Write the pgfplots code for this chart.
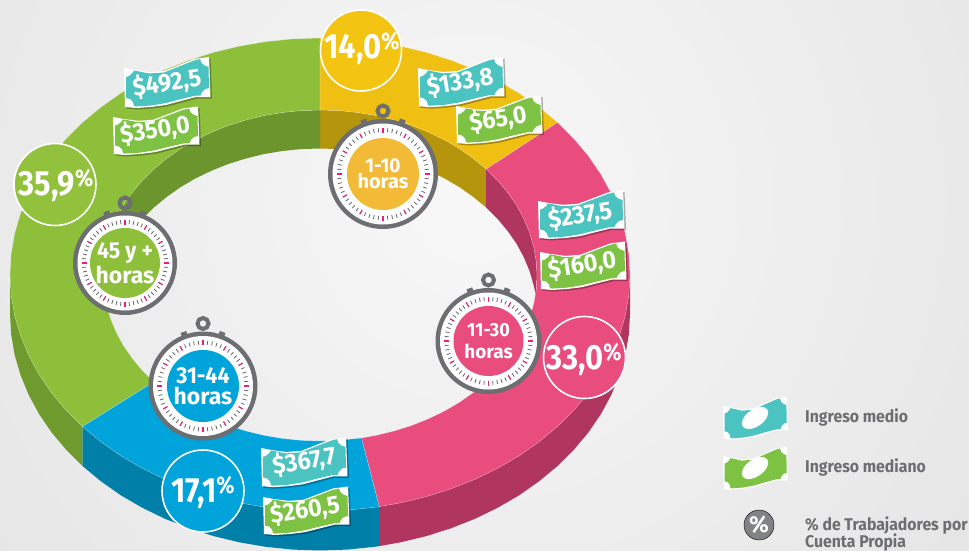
\documentclass[border=0pt]{standalone}
\usepackage{pgfplots}
\usepackage{pgfplotstable}
\usepackage{fontspec}
\pgfplotsset{compat=1.18}
\setmainfont{Fira Sans}
\definecolor{grT}{HTML}{8DBF3A}\definecolor{grW}{HTML}{6C962D}\definecolor{grS}{HTML}{6F9A2E}
\definecolor{yeT}{HTML}{EFBF12}\definecolor{yeW}{HTML}{B5950C}
\definecolor{piT}{HTML}{E94D7E}\definecolor{piW}{HTML}{B0355F}
\definecolor{blT}{HTML}{00A3DA}\definecolor{blS}{HTML}{007FA9}
\definecolor{teal}{HTML}{4BC3C0}\definecolor{ngr}{HTML}{7DC242}
\definecolor{wgray}{HTML}{6D6E71}\definecolor{tick}{HTML}{EC1E79}
\definecolor{grB}{HTML}{92C23D}\definecolor{yeB}{HTML}{F4C412}\definecolor{yeC}{HTML}{F2BA37}\definecolor{lgray}{HTML}{808285}
\pgfplotsset{pix/.style={at={(0,0)},anchor=south west,scale only axis,width=969pt,height=551pt,
 xmin=0,xmax=969,ymin=0,ymax=551,y dir=reverse,hide axis,clip=false}}
\newcommand\sx[2]{\scalebox{#1}[1]{#2}}
\pgfplotstableread{
x y
0 0
10 2
25 4
40 3
55 -3
70 -9
85 -11
85.5 0
86 14
86.5 29
72 29
57 33
42 37
27 39
12 40
1 39
0.5 20
0 0
}\noteshape
\pgfplotstableread{
x y
2 9
5 8
8 5.5
10 2.5
25 5.5
40 4.5
55 -1.5
70 -7.5
76 -9
77.5 -5
80.5 -2.5
84.5 -1
85 20
81 21
78 24
76.5 27.5
72 27.5
57 31
42 35
27 37.5
12 38.5
10 38
9 34
6 31
2 30
2 9
}\notefill
\newcommand\noteb[5]{%
\addplot[fill=white,draw=none,forget plot] table[x expr=\thisrow{x}*#4+#1,y expr=\thisrow{y}*#5+#2]{\noteshape};
\addplot[fill=#3,draw=none,forget plot] table[x expr=\thisrow{x}*#4+#1,y expr=\thisrow{y}*#5+#2]{\notefill};
}
\newcommand\note[5]{%
\addplot[fill=black,fill opacity=.3,draw=none,forget plot] table[x expr=\thisrow{x}*#4+#1+1.5,y expr=\thisrow{y}*#5+#2+1.5]{\noteshape};
\noteb{#1}{#2}{#3}{#4}{#5}}
\newcommand\money[3]{\node[text=white,rotate=9,inner sep=0pt,font=\fontsize{25}{25}\selectfont\bfseries] at (axis cs:#1,#2) {\sx{.94}{#3}};}
\newcommand\pct[3]{\node[text=white,font=\fontsize{35}{35}\selectfont\bfseries] at (axis cs:#1,#2) {\sx{.88}{#3\raisebox{9pt}{\fontsize{24}{24}\selectfont\%}}};}
\newcommand\watch[7]{%
\pgfplotsextra{\begin{scope}[shift={(axis cs:#1,#2)},x=1pt,y=1pt]
\draw[wgray,line width=4pt] (0,{#3+8}) circle (5.5pt);
\draw[wgray,line width=6pt] (70:{#3-2}) -- (70:{#3+3});
\draw[wgray,line width=6pt] (110:{#3-2}) -- (110:{#3+3});
\fill[wgray] (0,0) circle (#3pt);
\fill[white] (0,0) circle ({#3pt-4.5pt});
\foreach \a in {0,6,...,354}{\draw[black!60,line width=.8pt] (\a:{#3-13}) -- (\a:{#3-9});}
\foreach \a in {0,30,...,330}{\draw[tick,line width=1.1pt] (\a:{#3-13.5}) -- (\a:{#3-8.5});}
\draw[tick,line width=1.8pt] (90:{#3-13.5}) -- (90:{#3-8.5});
\fill[#5] (0,0) circle (#4pt);
\node[text=white,align=center,font=\fontsize{#6}{#6}\selectfont\bfseries,inner sep=0pt] at (0,0) {#7};
\end{scope}}}
\begin{document}
\begin{tikzpicture}
\path[use as bounding box] (0,0) rectangle (969pt,551pt);
\begin{scope}
\clip (0,0) rectangle (969pt,551pt);
\shade[inner color=white!97!black,outer color=white!89!black] (470pt,351pt) circle (700pt);
\end{scope}
\begin{axis}[pix]
% side walls
\addplot[fill=grS,draw=none,forget plot] coordinates {(82.5,426.5)(66.1,410.2)(51.5,392.8)(39,374.4)(28.7,355.4)(20.6,335.7)(14.7,315.6)(11.2,295.1)(10,274.5)(10,314)(11.2,334.6)(14.7,355.1)(20.6,375.2)(28.7,394.9)(39,413.9)(51.5,432.3)(66.1,449.7)(82.5,466)};
\addplot[fill=blS,draw=none,forget plot] coordinates {(82.5,426.5)(100.8,441.7)(120.7,455.7)(142.2,468.2)(165,479.3)(189,488.8)(214,496.7)(239.8,502.9)(266.2,507.4)(293,510.1)(320,511)(347,510.1)(373.8,507.4)(379.2,506.6)(379.2,546.1)(373.8,546.9)(347,549.6)(320,550.5)(293,549.6)(266.2,546.9)(239.8,542.4)(214,536.2)(189,528.3)(165,518.8)(142.2,507.7)(120.7,495.2)(100.8,481.2)(82.5,466)};
\addplot[fill=piW,draw=none,forget plot] coordinates {(630,274.5)(628.8,295.1)(625.3,315.6)(619.4,335.7)(611.3,355.4)(601,374.4)(588.5,392.8)(573.9,410.2)(557.5,426.5)(539.2,441.7)(519.3,455.7)(497.8,468.2)(475,479.3)(451,488.8)(426,496.7)(400.2,502.9)(379.2,506.6)(379.2,546.1)(400.2,542.4)(426,536.2)(451,528.3)(475,518.8)(497.8,507.7)(519.3,495.2)(539.2,481.2)(557.5,466)(573.9,449.7)(588.5,432.3)(601,413.9)(611.3,394.9)(619.4,375.2)(625.3,355.1)(628.8,334.6)(630,314)};
% inner walls
\addplot[fill=yeW,draw=none,forget plot] coordinates {(320,110)(338.9,110.6)(357.7,112.5)(376.2,115.6)(394.2,120)(411.7,125.5)(428.5,132.2)(444.5,139.9)(459.5,148.7)(473.4,158.5)(486.2,169.1)(486.2,207.6)(473.4,197)(459.5,187.2)(444.5,178.4)(428.5,170.7)(411.7,164)(394.2,158.5)(376.2,154.1)(357.7,151)(338.9,149.1)(320,148.5)};
\addplot[fill=piW,draw=none,forget plot] coordinates {(486.2,169.1)(497.8,180.6)(507.9,192.8)(516.7,205.5)(523.9,218.9)(529.6,232.6)(533.7,246.9)(536.2,261.1)(537,275.5)(535.8,294.75)(533.7,285.4)(529.6,271.1)(523.9,257.4)(516.7,244)(507.9,231.3)(497.8,219.1)(486.2,207.6)};
\addplot[fill=grW,draw=none,forget plot] coordinates {(320,110)(301.1,110.6)(282.3,112.5)(263.8,115.6)(245.8,120)(228.3,125.5)(211.5,132.2)(195.5,139.9)(180.5,148.7)(166.6,158.5)(153.8,169.1)(142.2,180.6)(132.1,192.8)(123.3,205.5)(116.1,218.9)(110.4,232.6)(106.3,246.9)(103.8,261.1)(103,275.5)(104.2,294.75)(106.3,285.4)(110.4,271.1)(116.1,257.4)(123.3,244)(132.1,231.3)(142.2,219.1)(153.8,207.6)(166.6,197)(180.5,187.2)(195.5,178.4)(211.5,170.7)(228.3,164)(245.8,158.5)(263.8,154.1)(282.3,151)(301.1,149.1)(320,148.5)};
% top surface: 35,9 / 14,0 / 33,0 / 17,1
\addplot[fill=grT,draw=white,draw opacity=.35,line width=.5pt,forget plot] coordinates {(82.5,426.5)(66.1,410.2)(51.5,392.8)(39,374.4)(28.7,355.4)(20.6,335.7)(14.7,315.6)(11.2,295.1)(10,274.5)(11.2,253.9)(14.7,233.4)(20.6,213.3)(28.7,193.6)(39,174.6)(51.5,156.2)(66.1,138.8)(82.5,122.5)(100.8,107.3)(120.7,93.3)(142.2,80.8)(165,69.7)(189,60.2)(214,52.3)(239.8,46.1)(266.2,41.6)(293,38.9)(320,38)(320,110)(301.1,110.6)(282.3,112.5)(263.8,115.6)(245.8,120)(228.3,125.5)(211.5,132.2)(195.5,139.9)(180.5,148.7)(166.6,158.5)(153.8,169.1)(142.2,180.6)(132.1,192.8)(123.3,205.5)(116.1,218.9)(110.4,232.6)(106.3,246.9)(103.8,261.1)(103,275.5)(103.8,289.9)(106.3,304.1)(110.4,318.4)(116.1,332.1)(123.3,345.5)(132.1,358.2)(142.2,370.4)(153.8,381.9)(82.5,426.5)};
\addplot[fill=yeT,draw=white,draw opacity=.35,line width=.5pt,forget plot] coordinates {(320,38)(347,38.9)(373.8,41.6)(400.2,46.1)(426,52.3)(451,60.2)(475,69.7)(497.8,80.8)(519.3,93.3)(539.2,107.3)(557.5,122.5)(486.2,169.1)(473.4,158.5)(459.5,148.7)(444.5,139.9)(428.5,132.2)(411.7,125.5)(394.2,120)(376.2,115.6)(357.7,112.5)(338.9,110.6)(320,110)(320,38)};
\addplot[fill=piT,draw=white,draw opacity=.35,line width=.5pt,forget plot] coordinates {(557.5,122.5)(573.9,138.8)(588.5,156.2)(601,174.6)(611.3,193.6)(619.4,213.3)(625.3,233.4)(628.8,253.9)(630,274.5)(628.8,295.1)(625.3,315.6)(619.4,335.7)(611.3,355.4)(601,374.4)(588.5,392.8)(573.9,410.2)(557.5,426.5)(539.2,441.7)(519.3,455.7)(497.8,468.2)(475,479.3)(451,488.8)(426,496.7)(400.2,502.9)(379.2,506.6)(361.5,438)(376.2,435.4)(394.2,431)(411.7,425.5)(428.5,418.8)(444.5,411.1)(459.5,402.3)(473.4,392.5)(486.2,381.9)(497.8,370.4)(507.9,358.2)(516.7,345.5)(523.9,332.1)(529.6,318.4)(533.7,304.1)(536.2,289.9)(537,275.5)(536.2,261.1)(533.7,246.9)(529.6,232.6)(523.9,218.9)(516.7,205.5)(507.9,192.8)(497.8,180.6)(486.2,169.1)(557.5,122.5)};
\addplot[fill=blT,draw=white,draw opacity=.35,line width=.5pt,forget plot] coordinates {(379.2,506.6)(373.8,507.4)(347,510.1)(320,511)(293,510.1)(266.2,507.4)(239.8,502.9)(214,496.7)(189,488.8)(165,479.3)(142.2,468.2)(120.7,455.7)(100.8,441.7)(82.5,426.5)(153.8,381.9)(166.6,392.5)(180.5,402.3)(195.5,411.1)(211.5,418.8)(228.3,425.5)(245.8,431)(263.8,435.4)(282.3,438.5)(301.1,440.4)(320,441)(338.9,440.4)(361.5,438)(379.2,506.6)};
% banknotes
\note{124}{68}{teal}{1}{1}\money{167}{83}{\$492,5}
\note{113}{117}{ngr}{1}{.95}\money{155}{130}{\$350,0}
\note{418}{68}{teal}{1}{.98}\money{460}{82}{\$133,8}
\note{456}{106}{ngr}{1}{.95}\money{498}{119}{\$65,0}
\note{538}{201}{teal}{1}{.95}\money{580}{215}{\$237,5}
\note{540}{252}{ngr}{1}{.95}\money{582}{265}{\$160,0}
\note{261}{448}{teal}{1}{.98}\money{304}{461}{\$367,7}
\note{263}{497}{ngr}{1}{.95}\money{305}{510}{\$260,5}
% stopwatches
\watch{383}{174}{55}{36}{yeC}{20}{\sx{.95}{1-10}\\[-4pt]\sx{1}{horas}}
\watch{125}{263}{52}{35}{grT}{23}{\sx{.93}{45 y +}\\[2pt]\sx{1}{horas}}
\watch{203}{386}{54.5}{36}{blT}{23}{\sx{.93}{31-44}\\[-2pt]\sx{1}{horas}}
\watch{488.5}{341}{53}{35}{piT}{19}{\sx{.95}{11-30}\\[3pt]\sx{1}{horas}}
% legend
\noteb{723}{406}{teal}{.75}{.84}
\noteb{723}{456}{ngr}{.75}{.84}
\pgfplotsextra{\begin{scope}[shift={(axis cs:755,418)},rotate=35]\fill[white] (0,0) ellipse (15pt and 8.5pt);\end{scope}
\begin{scope}[shift={(axis cs:755,468)},rotate=35]\fill[white] (0,0) ellipse (15pt and 8.5pt);\end{scope}}
\node[anchor=west,text=wgray,font=\fontsize{17}{17}\selectfont\bfseries,inner sep=0pt] at (axis cs:805,417) {\sx{.93}{Ingreso medio}};
\node[anchor=west,text=wgray,font=\fontsize{17}{17}\selectfont\bfseries,inner sep=0pt] at (axis cs:805,467) {\sx{.93}{Ingreso mediano}};
\node[anchor=west,text=wgray,font=\fontsize{17}{17}\selectfont\bfseries,inner sep=0pt] at (axis cs:805,525) {\sx{.93}{\% de Trabajadores por}};
\node[anchor=west,text=wgray,font=\fontsize{17}{17}\selectfont\bfseries,inner sep=0pt] at (axis cs:805,542) {\sx{.93}{Cuenta Propia}};
% percentage badges
\addplot[only marks,mark=*,mark size=41pt,mark options={fill=grB,draw=white,line width=1.6pt},forget plot] coordinates {(55,184.5)};
\addplot[only marks,mark=*,mark size=40.5pt,mark options={fill=yeB,draw=white,line width=1.6pt},forget plot] coordinates {(361,50.5)};
\addplot[only marks,mark=*,mark size=41pt,mark options={fill=piT,draw=white,line width=1.6pt},forget plot] coordinates {(584.5,357.5)};
\addplot[only marks,mark=*,mark size=41pt,mark options={fill=blT,draw=white,line width=1.6pt},forget plot] coordinates {(203,491)};
\addplot[only marks,mark=*,mark size=15pt,mark options={fill=lgray,draw=none},forget plot] coordinates {(759,525)};
\end{axis}
\begin{axis}[pix]
\addplot[draw=none,forget plot] coordinates {(0,0)};
\pct{56}{185}{35,9}
\pct{362}{48}{14,0}
\pct{584}{359}{33,0}
\pct{203}{492}{17,1}
\node[text=white,font=\fontsize{23}{23}\selectfont\bfseries] at (axis cs:759,525) {\%};
\end{axis}
\end{tikzpicture}
\end{document}
